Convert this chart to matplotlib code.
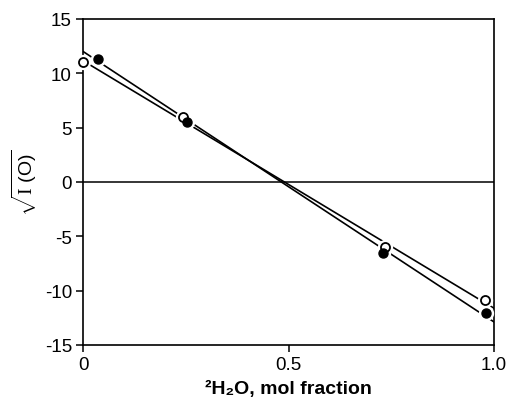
import numpy as np
import matplotlib
matplotlib.use('Agg')
import matplotlib.pyplot as plt

plt.rcParams['font.family'] = ['Liberation Sans', 'DejaVu Sans']
plt.rcParams['axes.unicode_minus'] = False
plt.rcParams['mathtext.fontset'] = 'custom'
plt.rcParams['mathtext.rm'] = 'Liberation Serif'
plt.rcParams['mathtext.sf'] = 'Liberation Sans'

# open circles
x_open = [0.0, 0.243, 0.735, 0.978]
y_open = [11.0, 5.95, -6.0, -10.9]
# filled circles
x_fill = [0.036, 0.252, 0.729, 0.980]
y_fill = [11.35, 5.55, -6.55, -12.05]

y_ticks = [-15, -10, -5, 0, 5, 10, 15]
x_ticks = [0, 0.5, 1.0]
x_tick_labels = ['0', '0.5', '1.0']

fig = plt.figure(figsize=(5.13, 4.06), dpi=100)
ax = fig.add_axes([0.162, 0.148, 0.801, 0.803])

# fitted lines across the full range
xx = np.array([0.0, 1.0])
for xs, ys in [(x_open, y_open), (x_fill, y_fill)]:
    k, b = np.polyfit(xs, ys, 1)
    ax.plot(xx, k * xx + b, color='black', lw=1.2, zorder=2)

ax.axhline(0, color='black', lw=1.1, zorder=1)

# white halo under markers so lines break around them
ax.plot(x_open + x_fill, y_open + y_fill, 'o', ms=10, color='white',
        mec='white', zorder=3, clip_on=False)
ax.plot(x_open, y_open, 'o', ms=6.5, mfc='white', mec='black', mew=1.3,
        zorder=4, clip_on=False)
ax.plot(x_fill, y_fill, 'o', ms=6.5, color='black', zorder=4, clip_on=False)

ax.set_xlim(0, 1.0)
ax.set_ylim(-15, 15)
ax.set_yticks(y_ticks)
ax.set_xticks(x_ticks)
ax.set_xticklabels(x_tick_labels)
ax.tick_params(direction='out', length=5, width=1.1, labelsize=13.5, pad=3)
for s in ax.spines.values():
    s.set_linewidth(1.2)

ax.set_xlabel('²H₂O, mol fraction', fontsize=14, fontweight='bold',
              labelpad=5)
ax.set_ylabel(r'$\sqrt{\mathrm{I}\ \mathsf{(O)}}$', fontsize=14, labelpad=4)

fig.savefig('out.png', dpi=100)
